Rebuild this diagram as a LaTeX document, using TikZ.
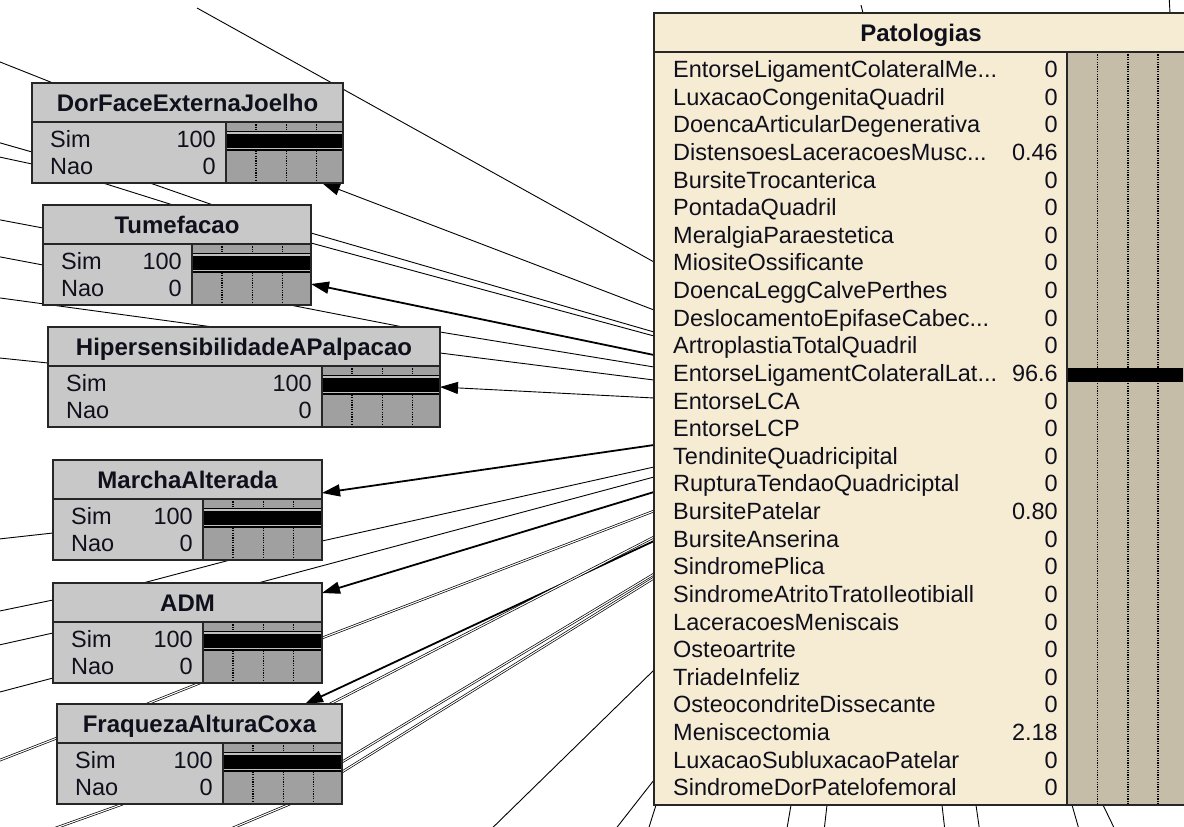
\documentclass[tikz,border=0pt]{standalone}
\usepackage{fontspec}
\setmainfont{Liberation Sans}
\usetikzlibrary{arrows.meta,calc}
\pgfdeclarelayer{bg}
\pgfsetlayers{bg,main}

\definecolor{nodegray}{HTML}{C8C8C8}
\definecolor{bargray}{HTML}{A0A0A0}
\definecolor{patbeige}{HTML}{F6ECD4}
\definecolor{pattan}{HTML}{C6BDA9}
\definecolor{inkc}{HTML}{10101C}

\newcommand\tdots{...}

\tikzset{
  link/.style={black, line width=0.9pt},
  strong/.style={black, line width=1.8pt},
  twin/.style={black, double=white, double distance=1.1pt, line width=0.7pt},
  tip/.style={-{Triangle[length=18pt,width=12pt]}},
  frameline/.style={draw=black!85, line width=1.4pt},
  gridline/.style={black, line width=1.2pt, dash pattern=on 1.2pt off 1.2pt},
  glint/.style={draw=black!25, line width=1.3pt},
  titletext/.style={inner sep=0pt, text=inkc, font=\fontsize{24}{28}\selectfont\bfseries, anchor=base},
  statetext/.style={inner sep=0pt, text=inkc, font=\fontsize{23.5}{28}\selectfont},
  bnframe/.style={draw=black!85, line width=1.4pt, inner sep=0pt, outer sep=0pt, rectangle},
}

% a two-state node: name, left, top, right, left edge of the bar area, title
\newcommand\statenode[6]{%
  \pgfmathsetmacro\nL{#2}%
  \pgfmathsetmacro\nT{#3}%
  \pgfmathsetmacro\nR{#4}%
  \pgfmathsetmacro\nB{#3+100}%
  \pgfmathsetmacro\bL{#5}%
  \fill[nodegray] (\nL,\nT) rectangle (\nR,\nB);
  \fill[bargray] (\bL,\nT+39) rectangle (\nR,\nB);
  \foreach \g in {30,60.5,90.5} {
    \draw[gridline] (\bL+\g,\nT+39) -- (\bL+\g,\nT+47.7);
    \draw[gridline] (\bL+\g,\nT+67.7) -- (\bL+\g,\nB);
  }
  \fill[black] (\bL,\nT+47.7) rectangle (\nR,\nT+67.7);
  \draw[glint] (\bL,\nT+50) -- (\nR,\nT+50);
  \draw[glint] (\bL,\nT+65.4) -- (\nR,\nT+65.4);
  \draw[frameline] (\nL,\nT+39) -- (\nR,\nT+39);
  \draw[frameline] (\bL,\nT+39) -- (\bL,\nB);
  \node[titletext] at ({(\nL+\nR)/2},\nT+28.5) {#6};
  \node[statetext, anchor=base west] at (\nL+18,\nT+64.5) {Sim};
  \node[statetext, anchor=base east] at (\bL-10,\nT+64.5) {100};
  \node[statetext, anchor=base west] at (\nL+18,\nT+91) {Nao};
  \node[statetext, anchor=base east] at (\bL-10,\nT+91) {0};
  \node[bnframe, anchor=north west, minimum width={\nR-\nL}, minimum height=100] (#1) at (\nL,\nT) {};
}

\begin{document}
\begin{tikzpicture}[x=1pt,y=-1pt]
\useasboundingbox (0,0) rectangle (1184,827);
\clip (0,0) rectangle (1184,827);

% ---- Patologias ----
\fill[patbeige] (654,13) rectangle (1188,805);
\fill[pattan] (1067,52) rectangle (1188,805);
\foreach \g in {30.5,61,91} \draw[gridline] (1067+\g,52) -- (1067+\g,805);
\fill[black] (1067,368) rectangle (1183,382);
\draw[frameline] (654,52) -- (1188,52);
\draw[frameline] (1067,52) -- (1067,805);
\node[titletext] at (921,41.5) {Patologias};
\foreach \lab/\val [count=\i] in {
  EntorseLigamentColateralMe\tdots/0,
  LuxacaoCongenitaQuadril/0,
  DoencaArticularDegenerativa/0,
  DistensoesLaceracoesMusc\tdots/0.46,
  BursiteTrocanterica/0,
  PontadaQuadril/0,
  MeralgiaParaestetica/0,
  MiositeOssificante/0,
  DoencaLeggCalvePerthes/0,
  DeslocamentoEpifaseCabec\tdots/0,
  ArtroplastiaTotalQuadril/0,
  EntorseLigamentColateralLat\tdots/96.6,
  EntorseLCA/0,
  EntorseLCP/0,
  TendiniteQuadricipital/0,
  RupturaTendaoQuadriciptal/0,
  BursitePatelar/0.80,
  BursiteAnserina/0,
  SindromePlica/0,
  SindromeAtritoTratoIleotibiall/0,
  LaceracoesMeniscais/0,
  Osteoartrite/0,
  TriadeInfeliz/0,
  OsteocondriteDissecante/0,
  Meniscectomia/2.18,
  LuxacaoSubluxacaoPatelar/0,
  SindromeDorPatelofemoral/0} {
  \pgfmathsetmacro\yb{77.5+(\i-1)*27.63}
  \node[statetext, anchor=base west] at (673,\yb) {\lab};
  \node[statetext, anchor=base east] at (1058,\yb) {\val};
}
\node[bnframe, anchor=north west, minimum width=534, minimum height=792] (pat) at (654,13) {};

% ---- two-state nodes ----
\statenode{dor}{32}{83}{343}{226}{DorFaceExternaJoelho}
\statenode{tum}{43}{205}{311}{192}{Tumefacao}
\statenode{hip}{48}{327}{440}{322}{HipersensibilidadeAPalpacao}
\statenode{mar}{53}{460}{322}{203}{MarchaAlterada}
\statenode{adm}{53}{583}{322}{203}{ADM}
\statenode{fra}{57}{704}{342}{223}{FraquezaAlturaCoxa}

% ---- links ----
\begin{pgfonlayer}{bg}
\fill[white] (0,0) rectangle (1184,827);
\coordinate (w1) at (-10,58);
\coordinate (w2) at (-10,140);
\coordinate (w3) at (-10,155);
\coordinate (w4) at (197,8);
\coordinate (w5) at (-10,218);
\coordinate (w6) at (-10,255);
\coordinate (w7) at (-10,296.6);
\coordinate (w8) at (-10,357);
\coordinate (w9) at (-10,540);
\coordinate (w10) at (-10,613);
\coordinate (w11) at (-10,647);
\coordinate (w12) at (-10,694.6);
\coordinate (w13) at (-10,764);
\coordinate (w14) at (22,840);
\coordinate (w15) at (204,840);
\coordinate (w16) at (480,840);
\coordinate (w17) at (607,840);
\coordinate (w18) at (1169,-5);
\coordinate (w19) at (861,5);

\draw[link] (w1) -- (dor.north -| 53,0);
\draw[link] (w2) -- (dor.west |- 0,152);
\draw[link] (w3) -- (dor.west |- 0,164);
\draw[link] (w4) -- (pat.west |- 0,262);
\draw[link,tip] (pat.west |- 0,310) -- (dor.south -| 322,0);
\draw[link] (dor.south -| 103,0) -- (tum.north -| 173,0);
\draw[link] (dor.south -| 150,0) -- (tum.north -| 213,0);

\draw[link] (w5) -- (tum.west |- 0,228);
\draw[link] (w6) -- (tum.west |- 0,265);
\draw[link] (w7) -- (hip.north -| 213,0);
\draw[link] (tum.south -| 290,0) -- (hip.north -| 403,0);
\draw[link] (tum.east |- 0,233) -- (pat.west |- 0,332);
\draw[link] (tum.east |- 0,243) -- (pat.west |- 0,336);
\draw[strong,tip] (pat.west |- 0,355) -- (tum.east |- 0,284);

\draw[link] (w8) -- (hip.west |- 0,363);
\draw[link] (hip.east |- 0,332) -- (pat.west |- 0,367);
\draw[link] (hip.east |- 0,353) -- (pat.west |- 0,380);
\draw[link,tip] (pat.west |- 0,398) -- (hip.east |- 0,387);

\draw[link] (w9) -- (mar.west |- 0,533);
\draw[strong,tip] (pat.west |- 0,445) -- (mar.east |- 0,493);
\draw[link] (mar.east |- 0,541) -- (pat.west |- 0,467);
\draw[link] (mar.south -| 230,0) -- (adm.north -| 143,0);
\draw[link] (pat.west |- 0,477) -- (adm.north -| 258,0);

\draw[strong,tip] (pat.west |- 0,492) -- (adm.east |- 0,593);
\draw[link] (w10) -- (adm.west |- 0,600);
\draw[link] (w11) -- (adm.west |- 0,633);
\draw[link] (w12) -- (adm.west |- 0,678);
\draw[twin] (adm.east |- 0,638) -- (pat.west |- 0,511);
\draw[twin] (adm.south -| 200,0) -- (fra.north -| 147,0);

\draw[strong,tip] (pat.west |- 0,541) -- (fra.north -| 305,0);
\draw[twin] (pat.west |- 0,537) -- (fra.north -| 330,0);
\draw[twin] (fra.east |- 0,762) -- (pat.west |- 0,574);
\draw[twin] (fra.east |- 0,772) -- (pat.west |- 0,578);
\draw[twin] (w13) -- (fra.west |- 0,738);
\draw[twin] (fra.south -| 123,0) -- (w14);
\draw[twin] (fra.south -| 290,0) -- (w15);

\draw[link] (pat.west |- 0,670) -- (w16);
\draw[link] (pat.west |- 0,780) -- (w17);
\foreach \xa/\xb in {656/645, 791/785, 827/823, 942/946, 976/981, 1072/1082, 1103/1120} {
  \draw[link] (pat.south -| \xa,0) -- (\xb,840);
}
\draw[link] (w18) -- (pat.north -| 1170,0);
\draw[link] (w19) -- (pat.north -| 863,0);
\end{pgfonlayer}
\end{tikzpicture}
\end{document}
